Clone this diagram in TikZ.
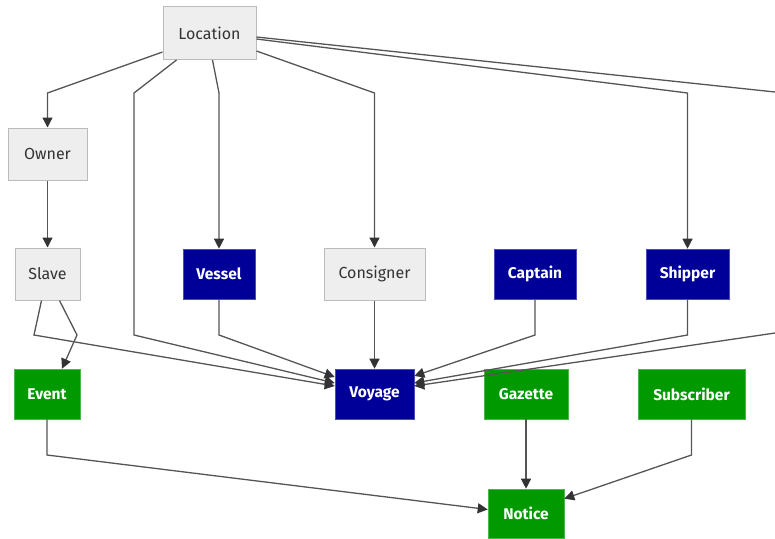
\documentclass[tikz,border=0pt]{standalone}
\usepackage{fontspec}
\setmainfont{Fira Sans}
\usetikzlibrary{arrows.meta}
\definecolor{grayfill}{HTML}{EEEEEE}
\definecolor{graydraw}{HTML}{BBBBBB}
\definecolor{bluefill}{HTML}{000099}
\definecolor{greenfill}{HTML}{009900}
\definecolor{edgecol}{HTML}{555555}
\definecolor{textgray}{HTML}{333333}
\begin{document}
\begin{tikzpicture}[x=1pt,y=-1pt,
  box/.style={rectangle,inner sep=0pt,anchor=center,font=\fontsize{16}{18}\selectfont},
  graybox/.style={box,fill=grayfill,draw=graydraw,line width=1pt,text=textgray},
  bluebox/.style={box,fill=bluefill,draw=bluefill!70!white,line width=0.6pt,text=white,font=\fontsize{15.5}{18}\selectfont\bfseries},
  greenbox/.style={box,fill=greenfill,draw=greenfill!70!white,line width=0.6pt,text=white,font=\fontsize{15.5}{18}\selectfont\bfseries},
  edge/.style={draw=edgecol,line width=1.3pt,-{Stealth[length=10pt,width=10pt,inset=0pt,color=textgray]}},
  plain/.style={draw=edgecol,line width=1.3pt}]
\useasboundingbox (0,0) rectangle (775,538);
\node[graybox,minimum width=93pt,minimum height=53pt] (loc) at (209.5,33) {Location};
\node[graybox,minimum width=79pt,minimum height=52pt] (owner) at (47.5,154) {Owner};
\node[graybox,minimum width=65pt,minimum height=52pt] (slave) at (47.5,274) {Slave};
\node[bluebox,minimum width=72pt,minimum height=50pt] (vessel) at (219,274) {Vessel};
\node[graybox,minimum width=101pt,minimum height=52pt] (consigner) at (374.5,274) {Consigner};
\node[bluebox,minimum width=82pt,minimum height=50pt] (captain) at (535,274) {Captain};
\node[bluebox,minimum width=83pt,minimum height=50pt] (shipper) at (687.5,274) {Shipper};
\node[greenbox,minimum width=66pt,minimum height=50pt] (event) at (47,394) {Event};
\node[bluebox,minimum width=79pt,minimum height=50pt] (voyage) at (374.5,394) {Voyage};
\node[greenbox,minimum width=84pt,minimum height=50pt] (gazette) at (526,394) {Gazette};
\node[greenbox,minimum width=107pt,minimum height=50pt] (subscriber) at (691.5,394) {Subscriber};
\node[greenbox,minimum width=76pt,minimum height=49pt] (notice) at (526,513.5) {Notice};
\coordinate (offA) at (775,92);
\coordinate (offB) at (775,333);
% edges from Location
\draw[edge] ([yshift=8pt]loc.south west) -- (47.5,93) -- (owner.north);
\draw[edge] ([xshift=14pt]loc.south west) -- (134,93) -- (134,335) -- ([yshift=11pt]voyage.west);
\draw[edge] ([xshift=50pt]loc.south west) -- (219,93) -- (vessel.north);
\draw[edge] ([yshift=9pt]loc.south east) -- (374.5,93) -- (consigner.north);
\draw[edge] ([yshift=-6pt]loc.east) -- (687.5,93) -- (shipper.north);
\draw[plain] ([yshift=-4pt]loc.east) -- (offA);
\draw[edge] (offB) -- ([yshift=8pt]voyage.east);
% middle
\draw[edge] (owner.south) -- (slave.north);
\draw[edge] ([xshift=12pt]slave.south) -- (77,335) -- ([xshift=15pt]event.north);
\draw[edge] ([xshift=-6pt]slave.south) -- (34,335) -- ([yshift=8pt]voyage.west);
\draw[edge] (vessel.south) -- (219,335) -- ([yshift=17pt]voyage.west);
\draw[edge] (consigner.south) -- (voyage.north);
\draw[edge] (captain.south) -- (535,335) -- ([yshift=18pt]voyage.east);
\draw[edge] (shipper.south) -- (687.5,335) -- ([yshift=11pt]voyage.east);
% bottom
\draw[edge] (event.south) -- (47,455) -- ([yshift=4pt]notice.west);
\draw[edge] (gazette.south) -- (notice.north);
\draw[edge] (subscriber.south) -- (691.5,455) -- ([yshift=-10pt]notice.north east);
\end{tikzpicture}
\end{document}
